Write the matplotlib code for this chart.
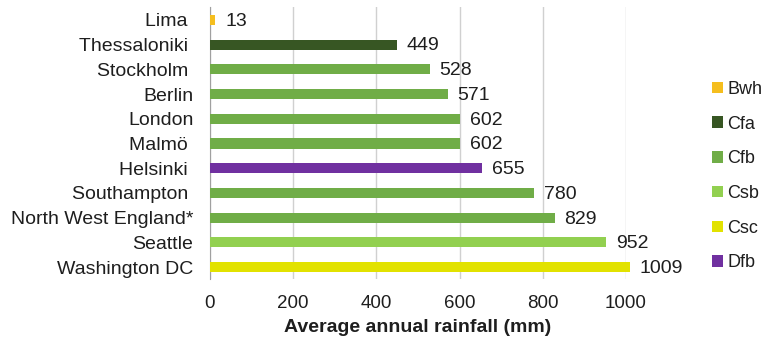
import matplotlib.pyplot as plt
from matplotlib.patches import Patch

plt.rcParams["font.family"] = ["Liberation Sans", "DejaVu Sans"]

# some labels carry a trailing space in the original chart
cities = ["Lima ", "Thessaloniki ", "Stockholm ", "Berlin", "London", "Malmö ",
          "Helsinki ", "Southampton ", "North West England*", "Seattle", "Washington DC"]
rainfall = [13, 449, 528, 571, 602, 602, 655, 780, 829, 952, 1009]
climate = ["Bwh", "Cfa", "Cfb", "Cfb", "Cfb", "Cfb", "Dfb", "Cfb", "Cfb", "Csb", "Csc"]

climate_names = ["Bwh", "Cfa", "Cfb", "Csb", "Csc", "Dfb"]
climate_colors = {
    "Bwh": "#F5BE1E",
    "Cfa": "#375623",
    "Cfb": "#70AD47",
    "Csb": "#92D050",
    "Csc": "#E2E200",
    "Dfb": "#7030A0",
}
text_color = "#1E1E1E"

fig = plt.figure(figsize=(7.68, 3.4), dpi=100)
ax = fig.add_axes([0.2734, 0.178, 0.5417, 0.8])

ypos = list(range(len(cities)))
ax.barh(ypos, rainfall, height=0.41,
        color=[climate_colors[c] for c in climate], zorder=3, clip_on=False)
for y, v in zip(ypos, rainfall):
    ax.annotate(str(v), xy=(v, y), xytext=(7, -1), textcoords="offset points",
                va="center", ha="left", fontsize=14, color=text_color,
                annotation_clip=False)

ax.set_ylim(len(cities) - 0.5, -0.5)
ax.set_yticks(ypos)
ax.set_yticklabels(cities, fontsize=14, color=text_color)
ax.set_xlim(0, 1000)
ax.set_xticks(range(0, 1001, 200))
ax.tick_params(axis="x", labelsize=13.5, colors=text_color, length=0, pad=11)
ax.tick_params(axis="y", length=0, pad=12)
ax.grid(axis="x", color="#D0D0D0", linewidth=1, zorder=0)
for side in ["top", "right", "bottom"]:
    ax.spines[side].set_visible(False)
ax.spines["left"].set_color("#A0A0A0")
ax.set_xlabel("Average annual rainfall (mm)", fontsize=14, fontweight="bold",
              color=text_color, labelpad=5)

handles = [Patch(facecolor=climate_colors[c], label=c) for c in climate_names]
leg = fig.legend(handles=handles, loc="center left", bbox_to_anchor=(0.918, 0.482),
                 frameon=False, fontsize=13, handlelength=0.6, handleheight=0.6,
                 handletextpad=0.25, labelspacing=0.98, borderaxespad=0)
for t in leg.get_texts():
    t.set_color(text_color)

fig.savefig("out.png", dpi=100)
